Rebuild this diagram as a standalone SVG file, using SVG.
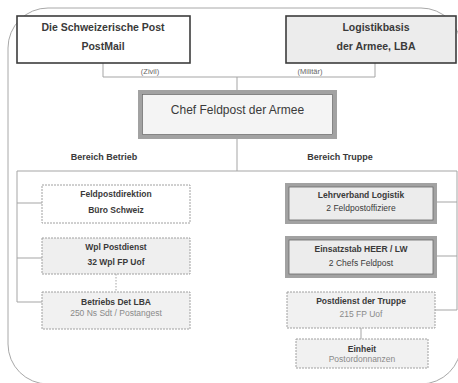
<svg xmlns="http://www.w3.org/2000/svg" width="458" height="383" viewBox="0 0 458 383">
<style>
text{font-family:"Liberation Sans",Arial,sans-serif;fill:#3a3a3a;text-anchor:middle}
.b{font-weight:bold}
.t{font-size:10.5px;font-weight:bold}
.s{font-size:8.5px}
.l{fill:#8a8a8a;font-weight:normal}
.sm{font-size:7.5px;fill:#666}
.dark{stroke:#3c3c3c;stroke-width:1.6}
.thick{stroke:#a2a2a2;stroke-width:4}
.inner{fill:none;stroke:#6a6a6a;stroke-width:0.8}
.dash{stroke:#a0a0a0;stroke-width:1;stroke-dasharray:2 1}
.c{fill:none;stroke:#a5a5a5;stroke-width:1}
</style>
<rect x="8" y="8" width="453" height="376" rx="40" ry="40" fill="#fff" stroke="#a8a8a8" stroke-width="1"/>
<g id="connectors">
<polyline class="c" points="103,63 103,77 375,77 375,63"/>
<line class="c" x1="237" y1="77" x2="237" y2="90"/>
<line class="c" x1="237" y1="139" x2="237" y2="171"/>
<line class="c" x1="17" y1="171" x2="457" y2="171"/>
<polyline class="c" points="17,171 17,302 42,302"/>
<line class="c" x1="17" y1="203" x2="42" y2="203"/>
<line class="c" x1="17" y1="258" x2="42" y2="258"/>
<line class="c" x1="457" y1="171" x2="457" y2="310"/>
<line class="c" x1="436" y1="202" x2="457" y2="202"/>
<line class="c" x1="436" y1="256" x2="457" y2="256"/>
<line class="c" x1="435" y1="310" x2="457" y2="310"/>
<line class="c" x1="116" y1="274" x2="116" y2="292" stroke-dasharray="1.5 1.5" stroke="#888"/>
<line class="c" x1="361" y1="328" x2="361" y2="339"/>
<text class="sm" x="150" y="74">(Zivil)</text>
<text class="sm" x="310" y="74">(Militär)</text>
</g>
<g id="post">
<rect class="dark" x="17" y="16" width="173" height="47" fill="#fff"/>
<text class="t" x="103" y="31">Die Schweizerische Post</text>
<text class="t" x="103" y="50">PostMail</text>
</g>
<g id="lba">
<rect class="dark" x="286" y="16" width="170" height="47" fill="#ececec"/>
<text class="t" x="376" y="31">Logistikbasis</text>
<text class="t" x="376" y="50">der Armee, LBA</text>
</g>
<g id="chef">
<rect class="thick" x="140" y="92" width="195" height="45" fill="#f4f4f4"/>
<rect class="inner" x="142.5" y="94.5" width="190" height="40"/>
<text x="237.5" y="114" font-size="12" fill="#333">Chef Feldpost der Armee</text>
</g>
<text class="b" x="104" y="160" font-size="9">Bereich Betrieb</text>
<text class="b" x="340" y="160" font-size="9">Bereich Truppe</text>
<g id="feldpostdirektion">
<rect class="dash" x="42" y="185" width="148" height="38" fill="#fff"/>
<text class="s b" x="116" y="197">Feldpostdirektion</text>
<text class="s b" x="116" y="213">Büro Schweiz</text>
</g>
<g id="wpl">
<rect class="dash" x="42" y="238" width="148" height="36" fill="#efefef"/>
<text class="s b" x="116" y="250">Wpl Postdienst</text>
<text class="s b" x="116" y="265">32 Wpl FP Uof</text>
</g>
<g id="betriebs">
<rect class="dash" x="42" y="292" width="148" height="37" fill="#f1f1f1"/>
<text class="s b" x="116" y="305">Betriebs Det LBA</text>
<text class="s l" x="116" y="316">250 Ns Sdt / Postangest</text>
</g>
<g id="lehrverband">
<rect class="thick" x="287" y="185" width="148" height="37" fill="#ececec" stroke-width="3"/>
<rect class="inner" x="289" y="187" width="144" height="33"/>
<text class="s b" x="361" y="198">Lehrverband Logistik</text>
<text class="s" x="361" y="211">2 Feldpostoffiziere</text>
</g>
<g id="einsatzstab">
<rect class="thick" x="287" y="238" width="148" height="38" fill="#ececec" stroke-width="3"/>
<rect class="inner" x="289" y="240" width="144" height="34"/>
<text class="s b" x="361" y="252">Einsatzstab HEER / LW</text>
<text class="s" x="361" y="266">2 Chefs Feldpost</text>
</g>
<g id="postdienst">
<rect class="dash" x="287" y="292" width="148" height="36" fill="#f1f1f1"/>
<text class="s b" x="361" y="304">Postdienst der Truppe</text>
<text class="s l" x="361" y="317">215 FP Uof</text>
</g>
<g id="einheit">
<rect class="dash" x="296" y="339" width="132" height="29" fill="#f1f1f1"/>
<text class="s b" x="362" y="352">Einheit</text>
<text class="s l" x="362" y="362">Postordonnanzen</text>
</g>
</svg>
